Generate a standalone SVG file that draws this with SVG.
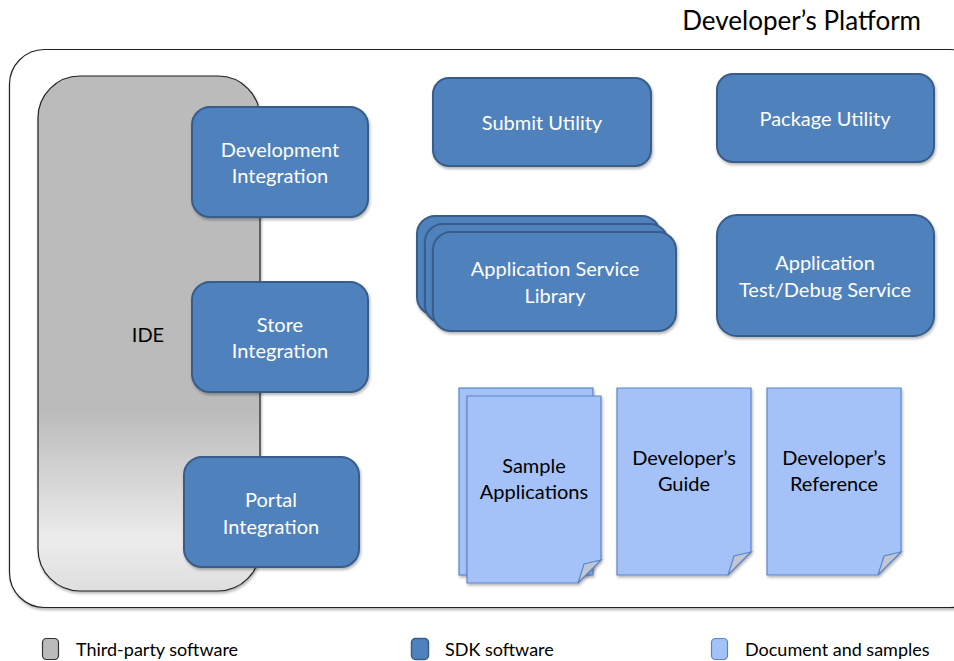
<svg xmlns="http://www.w3.org/2000/svg" width="954" height="661" viewBox="0 0 954 661">
<defs>
<linearGradient id="ideGrad" x1="0" y1="0" x2="0" y2="1">
<stop offset="0" stop-color="#bbbbbb"/>
<stop offset="0.65" stop-color="#bbbbbb"/>
<stop offset="0.9" stop-color="#ececec"/>
<stop offset="1" stop-color="#dedede"/>
</linearGradient>
<filter id="sh" x="-10%" y="-10%" width="130%" height="130%">
<feGaussianBlur in="SourceAlpha" stdDeviation="1.5"/>
<feOffset dx="1" dy="2" result="b"/>
<feComponentTransfer><feFuncA type="linear" slope="0.3"/></feComponentTransfer>
<feMerge><feMergeNode/><feMergeNode in="SourceGraphic"/></feMerge>
</filter>
</defs>
<style>
.sdk{fill:#4f81bd;stroke:#385d8a;stroke-width:2}
.doc{fill:#a4c2f8;stroke:#5a86c8;stroke-width:1.2}
.fold{fill:#c0c7d2;stroke:#5a86c8;stroke-width:1.2}
.wt{font-family:Lato,"Open Sans",sans-serif;font-size:20px;fill:#ffffff;text-anchor:middle}
.bt{font-family:Lato,"Open Sans",sans-serif;font-size:20px;fill:#000000;text-anchor:middle}
.lg{font-family:Lato,"Open Sans",sans-serif;font-size:18px;fill:#000000}
</style>
<rect width="954" height="661" fill="#ffffff"/>
<g id="platform">
<rect x="9.5" y="49.5" width="975" height="558" rx="35" fill="#ffffff" stroke="#222222" stroke-width="1.2" filter="url(#sh)"/>
<text x="921" y="30" font-family="Lato,'Open Sans',sans-serif" font-size="26" text-anchor="end" fill="#000">Developer’s Platform</text>
</g>
<g id="ide">
<rect x="38" y="76" width="222" height="515" rx="42" fill="url(#ideGrad)" stroke="#222222" stroke-width="1.2" filter="url(#sh)"/>
<text x="148" y="342" class="bt" font-size="21">IDE</text>
</g>
<g id="dev-integration">
<rect x="192" y="107" width="176" height="110" rx="18" class="sdk" filter="url(#sh)"/>
<text x="280" y="157" class="wt">Development</text>
<text x="280" y="183" class="wt">Integration</text>
</g>
<g id="store-integration">
<rect x="192" y="282" width="176" height="110" rx="18" class="sdk" filter="url(#sh)"/>
<text x="280" y="332" class="wt">Store</text>
<text x="280" y="358" class="wt">Integration</text>
</g>
<g id="portal-integration">
<rect x="184" y="457" width="175" height="110" rx="18" class="sdk" filter="url(#sh)"/>
<text x="271" y="507" class="wt">Portal</text>
<text x="271" y="534" class="wt">Integration</text>
</g>
<g id="submit-utility">
<rect x="433" y="78" width="218" height="88" rx="16" class="sdk" filter="url(#sh)"/>
<text x="542" y="130" class="wt">Submit Utility</text>
</g>
<g id="package-utility">
<rect x="717" y="74" width="217" height="88" rx="16" class="sdk" filter="url(#sh)"/>
<text x="825" y="126" class="wt">Package Utility</text>
</g>
<g id="app-service-library">
<rect x="417" y="216" width="243" height="99" rx="18" class="sdk" filter="url(#sh)"/>
<rect x="425" y="224" width="243" height="99" rx="18" class="sdk" filter="url(#sh)"/>
<rect x="433" y="232" width="243" height="99" rx="18" class="sdk" filter="url(#sh)"/>
<text x="555" y="276" class="wt">Application Service</text>
<text x="555" y="303" class="wt">Library</text>
</g>
<g id="app-test-debug">
<rect x="717" y="215" width="217" height="121" rx="20" class="sdk" filter="url(#sh)"/>
<text x="825" y="270" class="wt">Application</text>
<text x="825" y="297" class="wt">Test/Debug Service</text>
</g>
<g id="sample-applications">
<rect x="459" y="388" width="134" height="187" class="doc" filter="url(#sh)"/>
<path d="M467,396 H601 V560 L578,583 H467 Z" class="doc" filter="url(#sh)"/>
<path d="M578,583 L584,564 L601,560 Z" class="fold"/>
<text x="534" y="473" class="bt">Sample</text>
<text x="534" y="499" class="bt">Applications</text>
</g>
<g id="developers-guide">
<path d="M617,388 H751 V552 L728,575 H617 Z" class="doc" filter="url(#sh)"/>
<path d="M728,575 L734,556 L751,552 Z" class="fold"/>
<text x="684" y="465" class="bt">Developer’s</text>
<text x="684" y="491" class="bt">Guide</text>
</g>
<g id="developers-reference">
<path d="M767,388 H901 V552 L878,575 H767 Z" class="doc" filter="url(#sh)"/>
<path d="M878,575 L884,556 L901,552 Z" class="fold"/>
<text x="834" y="465" class="bt">Developer’s</text>
<text x="834" y="491" class="bt">Reference</text>
</g>
<g id="connectors"></g>
<g id="legend">
<rect x="42.5" y="638.5" width="16" height="21" rx="4" fill="#bbbbbb" stroke="#333" stroke-width="1.2"/>
<text x="76" y="656" class="lg">Third-party software</text>
<rect x="411.5" y="638.5" width="17" height="21" rx="4" fill="#4f81bd" stroke="#385d8a" stroke-width="1.5"/>
<text x="445" y="656" class="lg">SDK software</text>
<rect x="711.5" y="638.5" width="16" height="21" rx="4" fill="#a4c2f8" stroke="#5a86c8" stroke-width="1.2"/>
<text x="745" y="656" class="lg">Document and samples</text>
</g>
</svg>
